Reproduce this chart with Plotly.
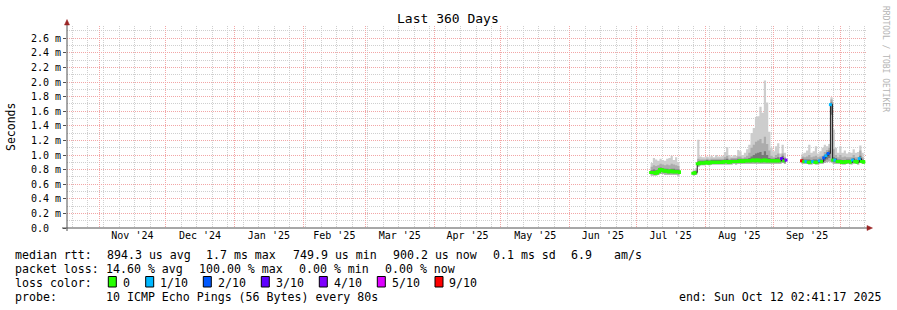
import pandas as pd
import plotly.graph_objects as go

# ---------------- canvas / plot-area geometry (pixels) ----------------
W, H = 897, 310
PL, PR, PT, PB = 67, 866, 26, 228

# ---------------- axis / labels ----------------
title_text = "Last 360 Days"
x_start = "2024-10-17 13:00"
x_end = "2025-10-12 13:00"
first_day = "2025-07-07 12:00"   # first rrd step (step = 1 day)

y_tick_vals = [0.0, 0.2, 0.4, 0.6, 0.8, 1.0, 1.2, 1.4, 1.6, 1.8, 2.0, 2.2, 2.4, 2.6]
y_tick_text = ["0.0\u00a0\u00a0", "0.2 m", "0.4 m", "0.6 m", "0.8 m", "1.0 m", "1.2 m",
               "1.4 m", "1.6 m", "1.8 m", "2.0 m", "2.2 m", "2.4 m", "2.6 m"]

# ---------------- data (ms), one value per day, None = no data ----------------
N = None
median_ms = [
    # Jul 8 - Jul 21
    0.76, 0.76, 0.75, 0.77, 0.80, 0.79, 0.78, 0.78, 0.77, 0.78, 0.77, 0.77, 0.77, 0.76,
    # Jul 22 - Jul 26 (gap)
    N, N, N, N, N,
    # Jul 27 - Jul 31
    0.75, 0.76, 0.88, 0.89, 0.89,
    # Aug 1 - Aug 31
    0.89, 0.90, 0.89, 0.90, 0.90, 0.90, 0.90, 0.90, 0.90, 0.91,
    0.91, 0.90, 0.91, 0.91, 0.91, 0.91, 0.92, 0.91, 0.92, 0.92,
    0.92, 0.92, 0.93, 0.92, 0.93, 0.92, 0.92, 0.93, 0.92, 0.92, 0.92,
    # Sep 1 - Sep 7
    0.92, 0.92, 0.92, 0.92, 0.95, 0.92, 0.93,
    # Sep 8 - Sep 13 (gap)
    N, N, N, N, N, N,
    # Sep 14 - Sep 30
    0.92, 0.91, 0.91, 0.90, 0.90, 0.91, 0.90, 0.90, 0.92, 0.91, 0.96, 0.99, 1.02, 1.69, 0.93, 0.93, 0.91,
    # Oct 1 - Oct 12
    0.91, 0.90, 0.90, 0.91, 0.91, 0.90, 0.93, 0.91, 0.90, 0.95, 0.91, 0.90,
]
loss_count = [
    0, 0, 0, 0, 0, 0, 0, 0, 0, 0, 0, 0, 0, 0,
    N, N, N, N, N,
    0, 0, 0, 0, 0,
    0, 0, 0, 0, 0, 0, 0, 0, 0, 0,
    0, 0, 0, 0, 0, 0, 0, 0, 0, 0,
    0, 0, 0, 0, 0, 0, 0, 0, 0, 0, 0,
    0, 0, 0, 0, 3, 0, 4,
    N, N, N, N, N, N,
    9, 0, 1, 0, 0, 1, 0, 0, 1, 0, 2, 1, 2, 1, 0, 1, 0,
    0, 0, 0, 0, 0, 0, 1, 0, 0, 1, 0, 0,
]
ping_min = [
    0.72, 0.72, 0.72, 0.73, 0.74, 0.74, 0.73, 0.73, 0.73, 0.73, 0.73, 0.73, 0.72, 0.72,
    N, N, N, N, N,
    0.72, 0.73, 0.84, 0.86, 0.86,
    0.86, 0.87, 0.86, 0.87, 0.87, 0.87, 0.87, 0.87, 0.87, 0.87,
    0.87, 0.87, 0.87, 0.88, 0.87, 0.88, 0.88, 0.88, 0.88, 0.88,
    0.88, 0.88, 0.88, 0.88, 0.88, 0.88, 0.88, 0.88, 0.88, 0.88, 0.88,
    0.88, 0.88, 0.88, 0.88, 0.89, 0.88, 0.88,
    N, N, N, N, N, N,
    0.88, 0.88, 0.88, 0.87, 0.87, 0.88, 0.87, 0.87, 0.88, 0.88, 0.89, 0.90, 0.91, 0.90, 0.88, 0.88, 0.88,
    0.88, 0.87, 0.87, 0.88, 0.88, 0.87, 0.88, 0.88, 0.87, 0.89, 0.88, 0.87,
]
ping_p25 = [
    0.74, 0.74, 0.74, 0.75, 0.77, 0.77, 0.76, 0.76, 0.75, 0.76, 0.75, 0.75, 0.75, 0.74,
    N, N, N, N, N,
    0.74, 0.74, 0.86, 0.88, 0.88,
    0.88, 0.88, 0.88, 0.88, 0.89, 0.89, 0.89, 0.89, 0.89, 0.89,
    0.89, 0.89, 0.89, 0.89, 0.89, 0.90, 0.90, 0.90, 0.90, 0.90,
    0.90, 0.90, 0.91, 0.90, 0.91, 0.90, 0.90, 0.91, 0.90, 0.90, 0.90,
    0.90, 0.90, 0.90, 0.90, 0.91, 0.90, 0.90,
    N, N, N, N, N, N,
    0.90, 0.89, 0.89, 0.89, 0.89, 0.89, 0.89, 0.89, 0.90, 0.89, 0.92, 0.94, 0.96, 1.55, 0.90, 0.90, 0.89,
    0.89, 0.89, 0.89, 0.89, 0.89, 0.89, 0.90, 0.89, 0.89, 0.91, 0.89, 0.89,
]
ping_p75 = [
    0.79, 0.80, 0.79, 0.80, 0.83, 0.82, 0.81, 0.81, 0.80, 0.81, 0.81, 0.80, 0.80, 0.79,
    N, N, N, N, N,
    0.77, 0.78, 0.91, 0.92, 0.92,
    0.92, 0.93, 0.92, 0.93, 0.93, 0.93, 0.93, 0.93, 0.93, 0.94,
    0.95, 0.93, 0.94, 0.94, 0.94, 0.95, 0.95, 0.94, 0.95, 0.95,
    0.96, 0.98, 1.00, 1.02, 1.03, 1.04, 1.00, 1.05, 1.00, 0.96, 0.95,
    0.95, 0.96, 0.97, 0.95, 0.99, 0.95, 0.96,
    N, N, N, N, N, N,
    0.95, 0.94, 0.94, 0.94, 0.93, 0.94, 0.94, 0.93, 0.95, 0.94, 1.00, 1.03, 1.06, 1.72, 0.97, 0.96, 0.94,
    0.94, 0.93, 0.93, 0.94, 0.94, 0.93, 0.96, 0.94, 0.93, 0.99, 0.94, 0.93,
]
ping_p90 = [
    0.84, 0.86, 0.85, 0.86, 0.88, 0.87, 0.86, 0.87, 0.86, 0.88, 0.87, 0.86, 0.85, 0.84,
    N, N, N, N, N,
    0.78, 0.79, 0.95, 0.94, 0.94,
    0.94, 0.95, 0.94, 0.95, 0.95, 0.95, 0.95, 0.95, 0.95, 0.97,
    0.99, 0.95, 0.96, 0.96, 0.96, 0.98, 0.98, 0.96, 0.97, 0.99,
    1.03, 1.10, 1.14, 1.18, 1.20, 1.22, 1.16, 1.25, 1.15, 1.06, 0.99,
    0.97, 1.00, 1.02, 0.97, 1.02, 0.97, 1.00,
    N, N, N, N, N, N,
    0.98, 0.97, 0.98, 1.00, 0.97, 0.98, 0.99, 0.97, 0.98, 0.99, 1.04, 1.07, 1.10, 1.76, 1.08, 1.00, 0.97,
    1.00, 0.97, 0.98, 0.97, 0.97, 0.97, 1.00, 0.97, 0.97, 1.06, 0.97, 0.96,
]
ping_max = [
    0.89, 0.96, 0.94, 0.92, 0.95, 0.93, 0.92, 0.95, 0.96, 0.99, 0.93, 0.97, 0.90, 0.88,
    N, N, N, N, N,
    0.80, 0.82, 1.21, 0.98, 0.97,
    0.97, 0.98, 0.97, 0.99, 0.97, 1.00, 0.98, 0.98, 0.99, 1.04,
    1.11, 1.00, 0.98, 1.00, 0.99, 1.07, 1.05, 1.00, 1.03, 1.08,
    1.14, 1.30, 1.37, 1.52, 1.53, 1.66, 1.58, 2.02, 1.72, 1.32, 1.10,
    1.05, 1.12, 1.16, 1.02, 1.14, 1.03, 1.15,
    N, N, N, N, N, N,
    1.02, 1.03, 1.06, 1.14, 1.03, 1.05, 1.12, 1.02, 1.05, 1.10, 1.14, 1.12, 1.15, 1.79, 1.35, 1.10, 1.03,
    1.12, 1.03, 1.06, 1.02, 1.04, 1.03, 1.08, 1.03, 1.04, 1.13, 1.03, 1.02,
]

# ---------------- loss colour legend ----------------
loss_labels = ["0", "1/10", "2/10", "3/10", "4/10", "5/10", "9/10"]
loss_colors = ["#26ff00", "#00b8ff", "#0059ff", "#5e00ff", "#7e00ff", "#dd00ff", "#ff0000"]
loss_upper = [0, 1, 2, 3, 4, 8, 10]

# ---------------- legend text ----------------
legend_rows = [
    [(15.5, "median rtt:"), (106.8, "894.3 us avg"), (206.0, "1.7 ms max"),
     (292.6, "749.9 us min"), (392.7, "900.2 us now"), (492.7, "0.1 ms sd"),
     (571.0, "6.9"), (613.5, "am/s")],
    [(15.5, "packet loss:"), (106.0, "14.60 % avg"), (198.7, "100.00 % max"),
     (299.3, "0.00 % min"), (385.3, "0.00 % now")],
    [(15.5, "loss color:")],
    [(15.5, "probe:"), (106.0, "10 ICMP Echo Pings (56 Bytes) every 80s")],
]
legend_row_y = [254.8, 268.8, 282.8, 296.8]
loss_box_x = [108.3, 145.7, 203.3, 261.3, 319.3, 377.3, 435.0]
end_text = "end: Sun Oct 12 02:41:17 2025"

MONO = "DejaVu Sans Mono"
LIGHT, MID, DARK = "#cdcdcd", "#acacac", "#777777"
JUMP = 0.05   # colored median is broken at jumps larger than this (dark line shows)


def px(x):
    return (x - PL) / (PR - PL)


def py(y):
    return (PB - y) / (PB - PT)


days = pd.date_range(first_day, periods=len(median_ms), freq="D")


def runs(vals):
    out, cur = [], []
    for i, v in enumerate(vals):
        if v is None:
            if cur:
                out.append(cur)
            cur = []
        else:
            cur.append(i)
    if cur:
        out.append(cur)
    return out


def cat(l):
    for k, u in enumerate(loss_upper):
        if l <= u:
            return k
    return len(loss_upper) - 1


fig = go.Figure()

# smoke bands
for lo, hi, col in [(ping_min, ping_max, LIGHT), (ping_min, ping_p90, MID), (ping_p25, ping_p75, DARK)]:
    for seg in runs(median_ms):
        xs = [days[i] for i in seg]
        fig.add_trace(go.Scatter(x=xs, y=[lo[i] for i in seg], mode="lines",
                                 line=dict(width=0, shape="hv"), hoverinfo="skip", showlegend=False))
        fig.add_trace(go.Scatter(x=xs, y=[hi[i] for i in seg], mode="lines", fill="tonexty",
                                 fillcolor=col, line=dict(width=0, shape="hv"),
                                 hoverinfo="skip", showlegend=False))

# dark median line
fig.add_trace(go.Scatter(x=days, y=median_ms, mode="lines", connectgaps=False,
                         line=dict(color="#202020", width=1, shape="hv"), showlegend=False))

# colored median, one trace per run of equal loss colour
color_runs = []
for i, (m, l) in enumerate(zip(median_ms, loss_count)):
    if m is None:
        continue
    c = cat(l)
    if (color_runs and color_runs[-1][0] == c and color_runs[-1][1][-1] == i - 1
            and abs(median_ms[i - 1] - m) <= JUMP):
        color_runs[-1][1].append(i)
    else:
        color_runs.append((c, [i]))

for c, idx in color_runs:
    col = loss_colors[c]
    fig.add_trace(go.Scatter(x=[days[i] for i in idx], y=[median_ms[i] for i in idx],
                             mode="lines+markers",
                             line=dict(color=col, width=3, shape="hv"),
                             marker=dict(color=col, size=3, symbol="square", line=dict(width=0)),
                             showlegend=False))

annotations = []
shapes = []


def ann(x, y, text, size=11.6, xanchor="left", color="#000000", angle=0, yanchor="middle"):
    annotations.append(dict(x=px(x), y=py(y), xref="paper", yref="paper", text=text,
                            showarrow=False, xanchor=xanchor, yanchor=yanchor, textangle=angle,
                            borderpad=0, borderwidth=0,
                            font=dict(family=MONO, size=size, color=color)))


ann(448, 19, title_text, size=13, xanchor="center")
ann(11, 127, "Seconds", size=11.5, xanchor="center", angle=-90)
ann(886, 59, "RRDTOOL / TOBI OETIKER", size=8, xanchor="center", color="#b4b4b4", angle=90)

for row, yy in zip(legend_rows, legend_row_y):
    for xx, t in row:
        ann(xx, yy, t)
ann(881, legend_row_y[3], end_text, xanchor="right")

for bx, lab, col in zip(loss_box_x, loss_labels, loss_colors):
    shapes.append(dict(type="rect", xref="paper", yref="paper",
                       x0=px(bx), x1=px(bx + 8), y0=py(287), y1=py(276.5),
                       fillcolor=col, line=dict(color="#000000", width=1)))
    ann(bx + 14.2, legend_row_y[2], lab)

AXIS = "#505050"
ARROW = "#9a2424"
# axis lines
shapes.append(dict(type="line", xref="paper", yref="paper", x0=px(PL), x1=px(PL),
                   y0=py(231), y1=py(22), line=dict(color=AXIS, width=1)))
shapes.append(dict(type="line", xref="paper", yref="paper", x0=px(62), x1=px(868),
                   y0=py(PB), y1=py(PB), line=dict(color=AXIS, width=1)))
# arrows
shapes.append(dict(type="path", xref="paper", yref="paper",
                   path=f"M {px(64.5)} {py(25)} L {px(69.5)} {py(25)} L {px(67)} {py(19.5)} Z",
                   fillcolor=ARROW, line=dict(color=ARROW, width=0.5)))
shapes.append(dict(type="path", xref="paper", yref="paper",
                   path=f"M {px(867)} {py(225.5)} L {px(867)} {py(230.5)} L {px(872.5)} {py(228)} Z",
                   fillcolor=ARROW, line=dict(color=ARROW, width=0.5)))

RED_GRID = "#f2a6a6"
GREY_GRID = "#cfcfcf"
DASH = "1px,1px"

fig.update_layout(
    width=W, height=H,
    margin=dict(l=PL, r=W - PR, t=PT, b=H - PB, pad=0),
    paper_bgcolor="#ffffff", plot_bgcolor="#ffffff",
    showlegend=False,
    annotations=annotations, shapes=shapes,
    xaxis=dict(
        type="date", range=[x_start, x_end], fixedrange=True,
        tick0="2024-11-01", dtick="M1", ticklabelmode="period", tickformat="%b '%y",
        tickfont=dict(family=MONO, size=10, color="#000000"),
        ticks="", showline=False, zeroline=False,
        showgrid=True, gridcolor=RED_GRID, griddash=DASH, gridwidth=1,
        minor=dict(tickmode="linear", tick0="2024-10-20", dtick=7 * 86400000,
                   showgrid=True, gridcolor=GREY_GRID, griddash=DASH, gridwidth=1, ticks=""),
    ),
    yaxis=dict(
        range=[0, (PB - PT) / 73.0], fixedrange=True,
        tickmode="array", tickvals=y_tick_vals, ticktext=y_tick_text,
        tickfont=dict(family=MONO, size=10, color="#000000"),
        ticks="outside", ticklen=3, tickcolor=AXIS, tickwidth=1,
        showline=False, zeroline=False,
        showgrid=True, gridcolor=RED_GRID, griddash=DASH, gridwidth=1,
        minor=dict(tickmode="linear", tick0=0, dtick=0.1,
                   showgrid=True, gridcolor=GREY_GRID, griddash=DASH, gridwidth=1, ticks=""),
    ),
)

fig.write_html("out.html")
